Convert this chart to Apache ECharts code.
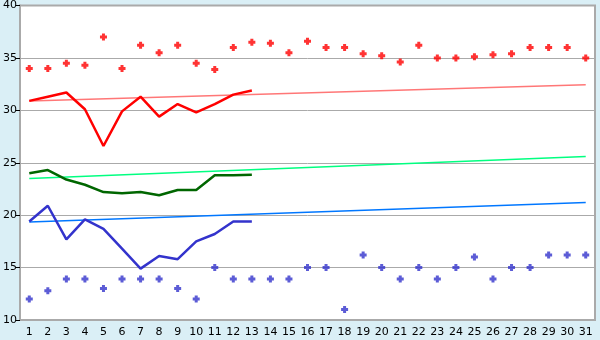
<!DOCTYPE html>
<html><head><meta charset="utf-8">
<script src="https://cdn.jsdelivr.net/npm/echarts@6/dist/echarts.min.js"></script>
<style>html,body{margin:0;padding:0;background:#DAEFF6;}#c{width:600px;height:340px;}</style>
</head><body><div id="c"></div>
<script>
var days = ['1','2','3','4','5','6','7','8','9','10','11','12','13','14','15','16','17','18','19','20','21','22','23','24','25','26','27','28','29','30','31'];
var redDots = [34, 34, 34.5, 34.3, 37, 34, 36.2, 35.5, 36.2, 34.5, 33.9, 36, 36.5, 36.4, 35.5, 36.6, 36, 36, 35.4, 35.2, 34.6, 36.2, 35, 35, 35.1, 35.3, 35.4, 36, 36, 36, 35];
var blueDots = [12, 12.8, 13.9, 13.9, 13, 13.9, 13.9, 13.9, 13, 12, 15, 13.9, 13.9, 13.9, 13.9, 15, 15, 11, 16.2, 15, 13.9, 15, 13.9, 15, 16, 13.9, 15, 15, 16.2, 16.2, 16.2];
var redLine = [30.9, 31.3, 31.7, 30.1, 26.6, 29.9, 31.3, 29.4, 30.6, 29.8, 30.6, 31.5, 31.9];
var greenLine = [24.0, 24.3, 23.4, 22.9, 22.2, 22.1, 22.2, 21.9, 22.4, 22.4, 23.8, 23.8, 23.85];
var blueLine = [19.4, 20.9, 17.7, 19.6, 18.7, 16.8, 14.9, 16.1, 15.8, 17.5, 18.2, 19.4, 19.4];
var redTrend = [30.9, 32.45];
var greenTrend = [23.5, 25.6];
var blueTrend = [19.35, 21.2];
var yTicks = [10, 15, 20, 25, 30, 35, 40];

function trend(ends){ return [[0, ends[0]], [days.length - 1, ends[1]]]; }
var font = 'DejaVu Sans';
var plusMark = 'path://M2,0 L5,0 L5,2 L7,2 L7,5 L5,5 L5,7 L2,7 L2,5 L0,5 L0,2 L2,2 Z';
var chart = echarts.init(document.getElementById('c'));
chart.setOption({
  backgroundColor: '#DAEFF6',
  animation: false,
  grid: {left: 20, right: 5, top: 5, bottom: 20, show: true, backgroundColor: '#ffffff', borderColor: '#aaaaaa', borderWidth: 2},
  xAxis: {
    type: 'category', data: days, boundaryGap: true,
    axisLine: {lineStyle: {color: '#aaaaaa', width: 2}},
    axisTick: {alignWithLabel: true, length: 5, lineStyle: {color: '#000'}},
    axisLabel: {color: '#000', fontFamily: font, fontSize: 11, margin: 7, interval: 0},
    splitLine: {show: false}
  },
  yAxis: {
    type: 'value', min: yTicks[0], max: yTicks[yTicks.length - 1], interval: 5,
    axisLine: {show: true, lineStyle: {color: '#aaaaaa', width: 2}},
    axisTick: {show: true, length: 4, lineStyle: {color: '#000'}},
    axisLabel: {color: '#000', fontFamily: font, fontSize: 11, margin: 3},
    splitLine: {lineStyle: {color: '#aaaaaa', width: 1}}
  },
  series: [
    {type: 'line', data: trend(redTrend), symbol: 'none', lineStyle: {color: '#FF7777', width: 1.5}, z: 2},
    {type: 'line', data: trend(greenTrend), symbol: 'none', lineStyle: {color: '#00FF80', width: 1.5}, z: 2},
    {type: 'line', data: trend(blueTrend), symbol: 'none', lineStyle: {color: '#0077FF', width: 1.5}, z: 2},
    {type: 'line', data: redLine, symbol: 'none', lineStyle: {color: '#FF0000', width: 2.5}, z: 3},
    {type: 'line', data: greenLine, symbol: 'none', lineStyle: {color: '#006600', width: 2.5}, z: 3},
    {type: 'line', data: blueLine, symbol: 'none', lineStyle: {color: '#3333CC', width: 2.5}, z: 3},
    {type: 'scatter', data: redDots, symbol: plusMark, symbolSize: 7, itemStyle: {color: '#FF0000'}, z: 4},
    {type: 'scatter', data: blueDots, symbol: plusMark, symbolSize: 7, itemStyle: {color: '#3333CC'}, z: 4}
  ]
});
</script></body></html>
